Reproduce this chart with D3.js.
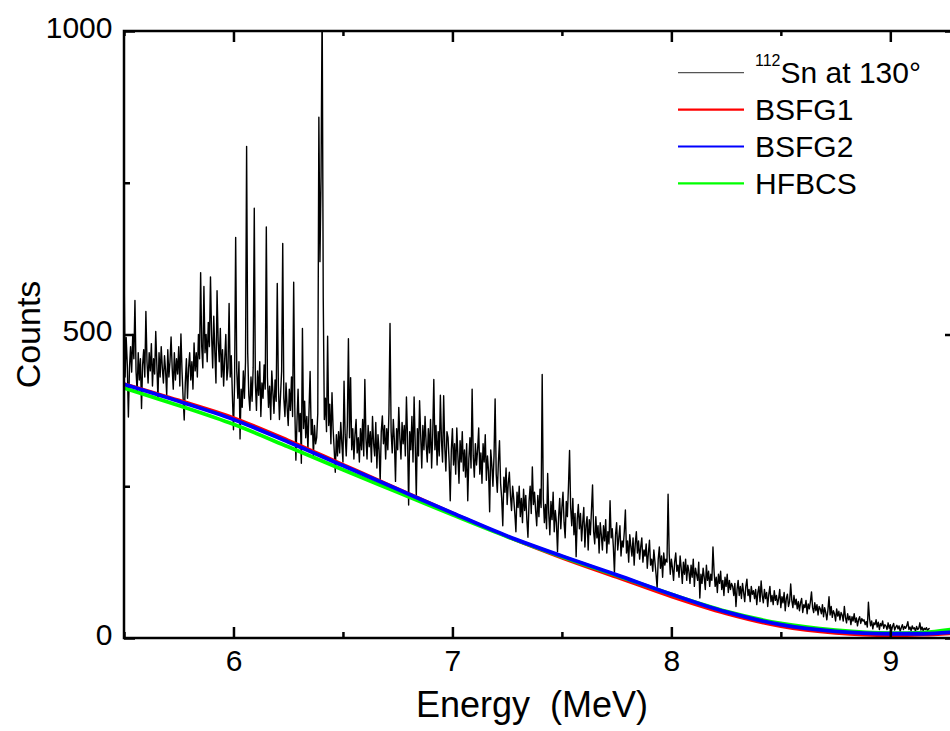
<!DOCTYPE html>
<html>
<head>
<meta charset="utf-8">
<script src="https://cdn.jsdelivr.net/npm/d3@7"></script>
<style>
  body { margin: 0; background: #fff; }
  svg { font-family: "Liberation Sans", Arial, sans-serif; }
</style>
</head>
<body>
<div id="chart"></div>
<script>
// spectrum: one count per 5 keV channel, starting at 5.5 MeV
var energyStart = 5.5;
var energyStep = 0.005;
var spectrumCounts = [
  620, 430, 495, 450, 364, 445, 480, 438, 500, 460, 556, 440, 405, 470, 425, 460,
  378, 450, 475, 430, 538, 455, 420, 470, 440, 485, 415, 460, 435, 505, 450, 395, 470, 430, 480, 445,
  420, 465, 440, 400, 475, 430, 455, 496, 445, 410, 470, 425, 460, 435, 480, 415, 501, 440, 395, 359,
  420, 460, 395, 445, 470, 425, 455, 410, 486, 440, 470, 430, 500, 460, 602, 480, 445, 579, 470, 500,
  455, 520, 480, 595, 500, 445, 530, 470, 420, 572, 490, 455, 510, 430, 475, 415, 460, 500, 425, 445,
  551, 430, 465, 400, 343, 420, 660, 440, 395, 455, 328, 410, 380, 440, 395, 455, 810, 470, 400, 375,
  430, 390, 445, 708, 420, 375, 440, 400, 455, 365, 420, 395, 450, 410, 677, 430, 380, 415, 360, 440,
  405, 370, 425, 390, 584, 415, 360, 400, 440, 650, 395, 365, 420, 380, 350, 410, 375, 430, 365, 586,
  380, 293, 355, 410, 340, 370, 288, 510, 345, 390, 330, 365, 310, 375, 439, 335, 360, 300, 350, 320,
  330, 370, 858, 620, 760, 1050, 560, 360, 395, 340, 497, 350, 385, 320, 404, 345, 310, 273, 335, 300,
  340, 305, 355, 320, 290, 423, 335, 300, 350, 493, 330, 429, 310, 345, 295, 335, 360, 305, 330, 290,
  345, 310, 360, 300, 426, 330, 295, 350, 315, 340, 290, 365, 320, 300, 355, 280, 335, 310, 258, 340,
  366, 320, 350, 295, 345, 310, 370, 518, 340, 305, 360, 325, 258, 345, 310, 380, 330, 295, 355, 320,
  350, 300, 397, 330, 219, 340, 310, 365, 290, 397, 320, 232, 345, 300, 391, 335, 280, 350, 310, 365,
  320, 290, 345, 305, 360, 280, 335, 426, 310, 350, 285, 340, 300, 400, 325, 290, 399, 315, 275, 340,
  330, 290, 226, 310, 345, 285, 320, 270, 346, 300, 255, 325, 290, 340, 275, 310, 265, 320, 226, 295,
  330, 280, 410, 300, 265, 320, 285, 310, 346, 270, 305, 255, 320, 290, 335, 260, 300, 275, 208, 310,
  285, 250, 300, 394, 270, 240, 290, 325, 255, 230, 185, 265, 240, 280, 220, 255, 273, 235, 210, 250,
  230, 205, 175, 240, 215, 250, 200, 230, 190, 245, 210, 235, 195, 166, 225, 250, 205, 282, 220, 240,
  210, 185, 235, 200, 245, 215, 434, 230, 190, 220, 180, 271, 205, 170, 225, 195, 240, 175, 210, 190,
  142, 200, 230, 180, 215, 240, 190, 165, 225, 200, 250, 309, 215, 185, 230, 170, 205, 134, 195, 220,
  180, 205, 160, 190, 215, 150, 185, 200, 145, 195, 170, 210, 252, 175, 155, 200, 165, 185, 140, 190,
  170, 145, 185, 160, 195, 140, 175, 155, 226, 165, 180, 150, 107, 170, 190, 145, 165, 185, 135, 160,
  150, 175, 211, 140, 160, 125, 170, 150, 135, 165, 120, 155, 175, 140, 160, 130, 150, 165, 125, 145,
  135, 155, 115, 140, 161, 120, 130, 110, 145, 125, 105, 82, 130, 150, 115, 135, 100, 140, 120, 130,
  125, 237, 140, 105, 130, 115, 95, 125, 140, 110, 120, 100, 135, 115, 90, 125, 105, 130, 95, 120,
  110, 90, 120, 100, 130, 85, 115, 105, 95, 125, 66, 105, 90, 115, 100, 80, 120, 95, 110, 85,
  105, 95, 150, 110, 85, 100, 75, 105, 90, 110, 80, 95, 70, 100, 85, 105, 75, 95, 80, 90,
  85, 70, 90, 52, 80, 95, 70, 85, 65, 90, 75, 60, 85, 97, 70, 80, 60, 85, 72, 78,
  65, 80, 55, 75, 85, 60, 94, 70, 58, 80, 65, 75, 52, 72, 85, 60, 70, 55, 78, 62,
  70, 55, 65, 80, 50, 68, 58, 75, 45, 65, 72, 52, 60, 89, 62, 50, 70, 55, 64, 48,
  60, 45, 58, 65, 42, 55, 50, 62, 40, 56, 48, 60, 76, 50, 42, 58, 45, 55, 38, 52,
  48, 40, 55, 35, 50, 42, 30, 46, 68, 38, 52, 34, 45, 40, 28, 48, 36, 44, 30, 42,
  38, 28, 52, 34, 25, 40, 30, 36, 22, 35, 28, 40, 26, 33, 20, 30, 35, 24, 32, 28,
  30, 22, 27, 18, 59, 32, 20, 28, 15, 25, 22, 30, 18, 26, 14, 24, 20, 28, 16, 22,
  20, 14, 25, 16, 22, 12, 19, 24, 13, 18, 21, 15, 20, 11, 17, 22, 14, 19, 16, 20,
  27, 14, 18, 12, 20, 15, 17, 11, 19, 14, 16, 25, 13, 18, 12, 16, 14, 17, 12, 15,
  16
];

// level density fits
var fitEnergies = [5.5, 5.75, 6.0, 6.25, 6.5, 6.75, 7.0, 7.25, 7.5, 7.75, 8.0, 8.25, 8.5, 8.75, 9.0, 9.15, 9.3];
var bsfg1Counts = [419, 392, 363, 326, 286, 246, 206, 167, 132, 100, 68, 40, 19, 8, 4, 5, 8];
var bsfg2Counts = [418, 390, 360, 323, 284, 245, 206, 168, 135, 104, 72, 43, 22, 11, 7, 7, 10];
var hfbcsCounts = [412, 383, 352, 315, 277, 240, 203, 167, 134, 103, 72, 44, 24, 13, 8, 9, 15];

var xDomain = [5.5, 9.3];
var yDomain = [0, 1000];
var xMajorTicks = [6, 7, 8, 9];
var xMinorTicks = [5.5, 6.5, 7.5, 8.5];
var yMajorTicks = [0, 500, 1000];
var yMinorTicks = [250, 750];

var legendKeys = ["Sn at 130°", "BSFG1", "BSFG2", "HFBCS"];
var legendColors = ["#555", "#ff0000", "#0000ff", "#00ff00"];


function SpectrumChart(elementId, chartWidth, chartHeight, margin) {
    this.elementId = elementId;
    this.chartWidth = chartWidth;
    this.chartHeight = chartHeight;
    this.margin = margin;
    this.width = 832;
    this.height = 607;
}

SpectrumChart.prototype.createFrame = function() {
    this.svg = d3.select(this.elementId).append("svg")
        .attr("width", this.chartWidth)
        .attr("height", this.chartHeight);
    this.g = this.svg.append("g")
        .attr("transform", "translate(" + this.margin.left + "," + this.margin.top + ")");
    this.g.append("clipPath").attr("id", "plot-clip")
        .append("rect")
        .attr("width", this.width)
        .attr("height", this.height);
}

SpectrumChart.prototype.createScales = function() {
    this.x = d3.scaleLinear().domain(xDomain).range([0, this.width]);
    this.y = d3.scaleLinear().domain(yDomain).range([this.height, 0]);
}

SpectrumChart.prototype.styleAxis = function(sel) {
    sel.select(".domain").remove();
    sel.selectAll(".tick line").attr("stroke", "#000").attr("stroke-width", 2.5);
    sel.selectAll(".tick text")
        .attr("fill", "#000")
        .style("font-size", "30px")
        .style("font-family", "'Liberation Sans', Arial, sans-serif");
}

SpectrumChart.prototype.createAxes = function() {
    var thisObj = this;
    var h = this.height, w = this.width;
    var fmt = d3.format("d");

    this.g.append("g").attr("transform", "translate(0," + h + ")")
        .call(d3.axisBottom(this.x).tickValues(xMajorTicks).tickFormat(fmt).tickSizeInner(-11).tickSizeOuter(0).tickPadding(12))
        .call(function(s) { thisObj.styleAxis(s); });
    this.g.append("g").attr("transform", "translate(0," + h + ")")
        .call(d3.axisBottom(this.x).tickValues(xMinorTicks).tickSize(-6).tickFormat(""))
        .call(function(s) { thisObj.styleAxis(s); });
    this.g.append("g")
        .call(d3.axisTop(this.x).tickValues(xMajorTicks).tickSize(-11).tickFormat(""))
        .call(function(s) { thisObj.styleAxis(s); });
    this.g.append("g")
        .call(d3.axisTop(this.x).tickValues(xMinorTicks).tickSize(-5).tickFormat(""))
        .call(function(s) { thisObj.styleAxis(s); });

    var left = this.g.append("g")
        .call(d3.axisLeft(this.y).tickValues(yMajorTicks).tickFormat(fmt).tickSizeInner(-11).tickSizeOuter(0).tickPadding(11.5))
        .call(function(s) { thisObj.styleAxis(s); });
    left.selectAll(".tick text").attr("dy", "0.2em");
    this.g.append("g")
        .call(d3.axisLeft(this.y).tickValues(yMinorTicks).tickSize(-6).tickFormat(""))
        .call(function(s) { thisObj.styleAxis(s); });
    this.g.append("g").attr("transform", "translate(" + w + ",0)")
        .call(d3.axisRight(this.y).tickValues(yMajorTicks).tickSize(-11).tickFormat(""))
        .call(function(s) { thisObj.styleAxis(s); });
    this.g.append("g").attr("transform", "translate(" + w + ",0)")
        .call(d3.axisRight(this.y).tickValues(yMinorTicks).tickSize(-6).tickFormat(""))
        .call(function(s) { thisObj.styleAxis(s); });

    // frame
    this.g.append("rect")
        .attr("width", w)
        .attr("height", h)
        .attr("fill", "none")
        .attr("stroke", "#000")
        .attr("stroke-width", 2.5);
}

SpectrumChart.prototype.createLines = function() {
    var thisObj = this;
    var spectrum = spectrumCounts.map(function(c, i) {
        return [energyStart + i * energyStep, c];
    });
    var line = d3.line()
        .x(function(d) { return thisObj.x(d[0]); })
        .y(function(d) { return thisObj.y(d[1]); });
    var smooth = d3.line()
        .curve(d3.curveMonotoneX)
        .x(function(d) { return thisObj.x(d[0]); })
        .y(function(d) { return thisObj.y(d[1]); });

    var plot = this.g.append("g").attr("clip-path", "url(#plot-clip)");
    plot.append("path")
        .datum(spectrum)
        .attr("d", line)
        .attr("fill", "none")
        .attr("stroke", "#000")
        .attr("stroke-width", 1.4)
        .attr("stroke-linejoin", "round");

    var fits = [
        { values: bsfg1Counts, color: legendColors[1], width: 3.2 },
        { values: hfbcsCounts, color: legendColors[3], width: 3.8 },
        { values: bsfg2Counts, color: legendColors[2], width: 3.8 }
    ];
    fits.forEach(function(f) {
        plot.append("path")
            .datum(fitEnergies.map(function(e, i) { return [e, f.values[i]]; }))
            .attr("d", smooth)
            .attr("fill", "none")
            .attr("stroke", f.color)
            .attr("stroke-width", f.width);
    });
}

SpectrumChart.prototype.createLegend = function() {
    var legend = this.svg.selectAll(".legend")
        .data(legendKeys)
        .enter().append("g")
        .attr("class", "legend")
        .attr("transform", function(d, i) { return "translate(0," + (72.7 + i * 36.9) + ")"; });

    legend.append("line")
        .attr("x1", 678)
        .attr("x2", 744)
        .attr("stroke", function(d, i) { return legendColors[i]; })
        .attr("stroke-width", function(d, i) { return i === 0 ? 1.2 : 2.2; });

    var text = legend.append("text")
        .attr("x", 755)
        .attr("y", 10.7)
        .style("font-size", "30px");
    text.filter(function(d, i) { return i === 0; })
        .append("tspan")
        .attr("dy", "-17")
        .style("font-size", "16px")
        .text("112");
    text.append("tspan")
        .attr("dy", function(d, i) { return i === 0 ? 17 : 0; })
        .text(function(d) { return d; });
}

SpectrumChart.prototype.createLabels = function() {
    this.svg.append("text")
        .attr("transform", "translate(40," + (this.margin.top + this.height / 2) + ") rotate(-90)")
        .attr("text-anchor", "middle")
        .style("font-size", "34px")
        .text("Counts");
    this.svg.append("text")
        .attr("x", 532)
        .attr("y", 717)
        .attr("text-anchor", "middle")
        .style("font-size", "36px")
        .style("white-space", "pre")
        .text("Energy  (MeV)");
}

SpectrumChart.prototype.create = function() {
    this.createFrame();
    this.createScales();
    this.createLines();
    this.createAxes();
    this.createLegend();
    this.createLabels();
}

var chart = new SpectrumChart("#chart", 950, 731, { top: 31, left: 124 });
chart.create();
</script>
</body>
</html>
